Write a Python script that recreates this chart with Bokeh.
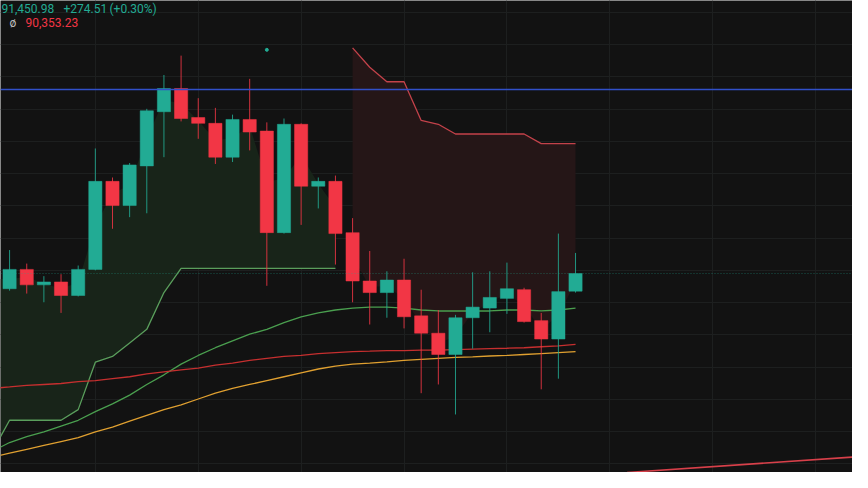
from bokeh.plotting import figure
from bokeh.models import Range1d, FixedTicker, Span, Label, ColumnDataSource
from bokeh.embed import file_html
from bokeh.resources import INLINE

# ---------------- data ----------------
candle_idx = list(range(34))
opens = [91215, 91515, 91275, 91320, 91110, 91515, 92880, 92505, 93120, 93960,
         94320, 93870, 93780, 93255, 93840, 93660, 92085, 93765, 92805, 92880,
         92085, 91335, 91155, 91350, 90795, 90525, 90195, 90765, 90915, 91065,
         91200, 90720, 90435, 91176.47]
closes = [91515, 91275, 91320, 91110, 91515, 92880, 92505, 93135, 93975, 94320,
          93855, 93780, 93255, 93840, 93645, 92085, 93765, 92805, 92880, 92070,
          91335, 91155, 91350, 90780, 90525, 90195, 90765, 90930, 91080, 91215,
          90705, 90435, 91170, 91450.98]
highs = [91815, 91605, 91410, 91440, 91575, 93390, 92940, 93165, 94005, 94530,
         94830, 94170, 94020, 93915, 94470, 93795, 93855, 93780, 92940, 92970,
         92310, 91800, 91485, 91680, 91200, 90885, 90810, 91470, 91485, 91620,
         91230, 90840, 92070, 91770]
lows = [91185, 91140, 91005, 90840, 91095, 91500, 92145, 92325, 92385, 93255,
        93810, 93540, 93150, 93180, 93360, 91260, 92070, 92205, 92460, 91590,
        91005, 90660, 90765, 90600, 89595, 89730, 89265, 90285, 90540, 90825,
        90690, 89655, 89820, 91155]

# SuperTrend (up trend part and down trend part)
st_up_idx = list(range(-1, 20))
st_up = [88695, 89175, 89175, 89175, 89175, 89340, 90075, 90165, 90375, 90585,
         91155, 91530, 91530, 91530, 91530, 91530, 91530, 91530, 91530, 91530, 91530]
st_dn_idx = list(range(20, 34))
st_dn = [94950, 94650, 94425, 94425, 93825, 93765, 93615, 93615, 93615, 93615,
         93615, 93465, 93465, 93465]

# moving averages (index -1 .. 33)
ma_idx = list(range(-1, 34))
ma_green = [88695, 88830, 88920, 88995, 89085, 89175, 89310, 89430, 89565, 89730,
            89880, 90045, 90180, 90300, 90405, 90510, 90585, 90690, 90780, 90840,
            90885, 90915, 90930, 90930, 90915, 90885, 90870, 90870, 90870, 90870,
            90885, 90885, 90870, 90885, 90915]
ma_red = [89670, 89692, 89715, 89730, 89745, 89775, 89790, 89820, 89850, 89895,
          89925, 89955, 89985, 90030, 90060, 90105, 90135, 90165, 90180, 90210,
          90225, 90240, 90247, 90255, 90255, 90262, 90262, 90270, 90277, 90285,
          90292, 90300, 90315, 90330, 90353.23]
ma_orange = [88605, 88665, 88725, 88785, 88845, 88905, 88995, 89070, 89160, 89250,
             89340, 89415, 89505, 89595, 89670, 89730, 89790, 89850, 89910, 89970,
             90015, 90045, 90060, 90082, 90105, 90120, 90135, 90150, 90157, 90172,
             90180, 90195, 90210, 90225, 90240]

# long-term line visible at bottom right
long_idx = [36, 50]
long_val = [88365, 88620]

level_blue = 94305
marker_idx = [15]
marker_val = [94920]

x_grid_ticks = [5, 11, 17, 23, 29, 35, 41, 47]
y_grid_ticks = [88500, 89000, 89500, 90000, 90500, 91000, 91500, 92000,
                92500, 93000, 93500, 94000, 94500, 95000, 95500]

header_price = "91,450.98"
header_change = "+274.51"
header_pct = "(+0.30%)"
header_ma = "90,353.23"

# ---------------- colours ----------------
BG = "#121212"
GRID = "#1d1f1f"
UP = "#22ab94"
DOWN = "#f23645"

X0 = -0.53
p = figure(width=852, height=472, output_backend="svg", toolbar_location=None,
           x_range=Range1d(X0, 49.15), y_range=Range1d(88365, 95685),
           min_border=0, background_fill_color=BG, border_fill_color=BG,
           outline_line_color=None)
p.xaxis.visible = False
p.yaxis.visible = False
p.xgrid.ticker = FixedTicker(ticks=x_grid_ticks)
p.ygrid.ticker = FixedTicker(ticks=y_grid_ticks)
p.xgrid.grid_line_color = GRID
p.ygrid.grid_line_color = GRID

# supertrend fills (between line and body middle), held to the left edge
mid = [(o + c) / 2 for o, c in zip(opens, closes)]
up_fill_x = [X0] + [i for i in st_up_idx if i >= 0]
up_fill_line = [st_up[0] + (st_up[1] - st_up[0]) * (X0 + 1)] + \
    [v for i, v in zip(st_up_idx, st_up) if i >= 0]
up_fill_mid = [mid[0]] + [mid[i] for i in st_up_idx if i >= 0]
p.varea(x=up_fill_x, y1=up_fill_line, y2=up_fill_mid, fill_color="#182419")
p.varea(x=st_dn_idx, y1=st_dn, y2=[mid[i] for i in st_dn_idx],
        fill_color="#251617")

# horizontal level and price line
p.add_layout(Span(location=level_blue, dimension="width", line_color="#3150c9",
                  line_width=1.6))
p.add_layout(Span(location=closes[-1], dimension="width", line_color=UP,
                  line_alpha=0.45, line_width=1, line_dash="1 2"))

# supertrend lines
p.line(st_up_idx, st_up, line_color="#5a9e5c", line_width=1.3)
p.line(st_dn_idx, st_dn, line_color="#c3424a", line_width=1.3)

# moving averages
p.line(ma_idx, ma_green, line_color="#4a9f4f", line_width=1.3)
p.line(ma_idx, ma_red, line_color="#c62f2f", line_width=1.3)
p.line(ma_idx, ma_orange, line_color="#e0a030", line_width=1.3)
p.line(long_idx, long_val, line_color="#d8404a", line_width=1.6)

# candles
colors = [UP if c >= o else DOWN for o, c in zip(opens, closes)]
src = ColumnDataSource(dict(
    x=candle_idx, o=opens, c=closes, h=highs, l=lows,
    top=[max(o, c) for o, c in zip(opens, closes)],
    bottom=[min(o, c) for o, c in zip(opens, closes)],
    color=colors))
p.segment(x0="x", y0="h", x1="x", y1="l", color="color", line_width=1,
          line_alpha=0.85, source=src)
p.vbar(x="x", width=0.77, top="top", bottom="bottom", fill_color="color",
       line_color="color", line_width=0.5, source=src)

p.scatter(marker_idx, marker_val, size=3, color=UP)

# header texts
FONT = "Roboto"
p.add_layout(Label(x=1, y=464, x_units="screen", y_units="screen",
                   text=header_price, text_color=UP, text_font=FONT,
                   text_font_size="12px", text_baseline="middle"))
p.add_layout(Label(x=63, y=464, x_units="screen", y_units="screen",
                   text=header_change, text_color=UP, text_font=FONT,
                   text_font_size="12px", text_baseline="middle"))
p.add_layout(Label(x=109, y=464, x_units="screen", y_units="screen",
                   text=header_pct, text_color=UP, text_font=FONT,
                   text_font_size="12px", text_baseline="middle"))
p.add_layout(Label(x=9, y=450, x_units="screen", y_units="screen",
                   text="ø", text_color="#b8b8b8", text_font=FONT,
                   text_font_size="12px", text_baseline="middle"))
p.add_layout(Label(x=25, y=450, x_units="screen", y_units="screen",
                   text=header_ma, text_color=DOWN, text_font=FONT,
                   text_font_size="12px", text_baseline="middle"))

open("out.html", "w").write(file_html(p, INLINE))
